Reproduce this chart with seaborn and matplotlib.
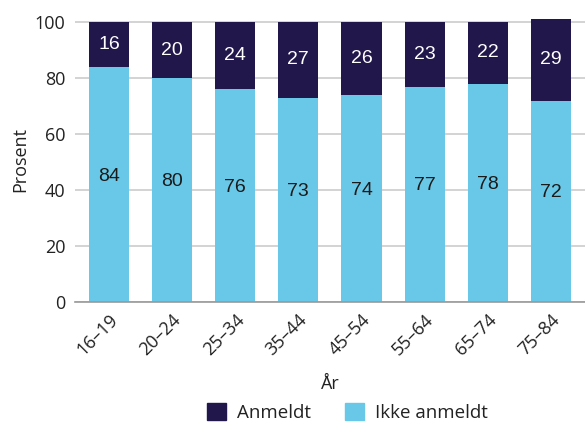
import matplotlib.pyplot as plt
import seaborn as sns
import pandas as pd
from matplotlib.patches import Patch

# ======= data ======= #
ages = ["16–19", "20–24", "25–34", "35–44", "45–54", "55–64", "65–74", "75–84"]
ikke_anmeldt = [84, 80, 76, 73, 74, 77, 78, 72]
anmeldt = [16, 20, 24, 27, 26, 23, 22, 29]

dark = "#21174A"
light = "#69C8E8"
txt = "#222222"

sns.set_style("white")
plt.rcParams["font.family"] = ["Open Sans", "DejaVu Sans"]

df = pd.DataFrame({"Aar": ages, "Ikke": ikke_anmeldt, "Anm": anmeldt})
df["Total"] = df["Ikke"] + df["Anm"]

fig = plt.figure(figsize=(5.85, 4.25), dpi=100)
ax = fig.add_axes([0.128, 0.289, 0.872, 0.672])

# stacked: total first (dark), then bottom part (light) on top
sns.barplot(data=df, x="Aar", y="Total", color=dark, width=0.634,
            saturation=1, linewidth=0, ax=ax, zorder=3)
sns.barplot(data=df, x="Aar", y="Ikke", color=light, width=0.634,
            saturation=1, linewidth=0, ax=ax, zorder=3)

for i, (a, b) in enumerate(zip(ikke_anmeldt, anmeldt)):
    ax.text(i, a / 2 + 3, str(a), ha="center", va="center",
            fontsize=14, family="Liberation Sans", color="#1a1a1a", zorder=4)
    ax.text(i, a + b / 2, str(b), ha="center", va="center",
            fontsize=14, family="Liberation Sans", color="white", zorder=4)

ax.set_xlim(-0.54, 7.54)
ax.set_ylim(0, 102)
ax.set_yticks([0, 20, 40, 60, 80, 100])
ax.yaxis.grid(True, color="#cccccc", linewidth=1.2, zorder=0)
ax.tick_params(axis="both", length=0, labelsize=13, colors=txt)
ax.tick_params(axis="y", pad=7)
ax.tick_params(axis="x", pad=6)
plt.setp(ax.get_xticklabels(), rotation=45, ha="right", rotation_mode="anchor")

for s in ["left", "right", "top"]:
    ax.spines[s].set_visible(False)
ax.spines["bottom"].set_color("#999999")
ax.spines["bottom"].set_linewidth(1.2)
ax.spines["bottom"].set_zorder(5)

ax.set_xlabel("År", fontsize=13, color=txt, labelpad=12)
ax.set_ylabel("Prosent", fontsize=13, color=txt, labelpad=4)

handles = [Patch(color=dark, label="Anmeldt"), Patch(color=light, label="Ikke anmeldt")]
fig.legend(handles=handles, loc="center", bbox_to_anchor=(0.594, 0.03), ncol=2,
           frameon=False, fontsize=13.5, handlelength=1.0, handleheight=1.0,
           columnspacing=1.8, handletextpad=0.6, labelcolor=txt)

fig.savefig("out.png", dpi=100)
